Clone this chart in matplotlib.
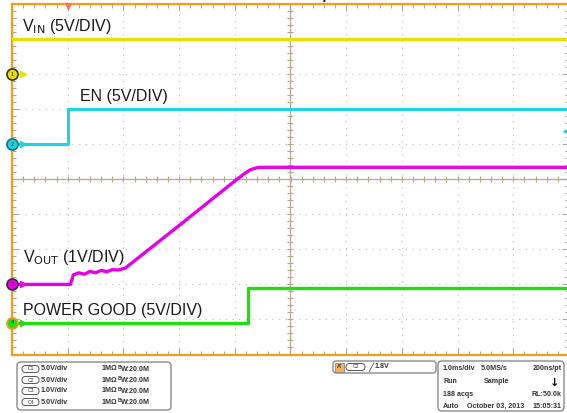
import numpy as np
import matplotlib.pyplot as plt
from matplotlib.patches import FancyBboxPatch

plt.rcParams['font.family'] = ['Liberation Sans', 'DejaVu Sans']

# scope traces, in screen divisions (x: 0..10 time, y: 0..10 vertical)
vin_x = [0.0, 10.0]
vin_y = [9.0, 9.0]

en_x = [0.08, 1.0, 1.0, 10.0]
en_y = [6.0, 6.0, 7.0, 7.0]

vout_x = [0.1, 1.05, 1.1, 1.2, 1.3, 1.4, 1.5, 1.6, 1.7, 1.8, 1.9, 2.03,
          3.0, 4.0, 4.18, 4.28, 4.38, 4.45, 10.0]
vout_y = [2.0, 2.0, 2.27, 2.33, 2.29, 2.37, 2.33, 2.40, 2.36, 2.42, 2.41, 2.46,
          3.68, 4.95, 5.17, 5.27, 5.32, 5.34, 5.34]

pg_x = [0.1, 4.24, 4.24, 10.0]
pg_y = [0.9, 0.9, 1.9, 1.9]

# channel ground markers
ch_names = ['1', '2', '3', '4']
ch_levels = [8.0, 6.0, 2.0, 0.9]
ch_colors = ['#e8e000', '#1ed4e4', '#e600e6', '#22dd11']
ch_edges = ['#333333', '#1a6f80', '#333333', '#f39c1f']

trig_pos = 1.0
trig_level = 6.36

labels = ['V$_{\\mathrm{IN}}$ (5V/DIV)', 'EN (5V/DIV)',
          'V$_{\\mathrm{OUT}}$ (1V/DIV)', 'POWER GOOD (5V/DIV)']
label_x = [0.18, 1.22, 0.19, 0.19]
label_y = [9.23, 7.23, 2.64, 1.14]

scale_rows = [('C1', '5.0V/div'), ('C2', '5.0V/div'), ('C3', '1.0V/div'), ('C4', '5.0V/div')]
info_rows = [('1.0ms/div', '5.0MS/s', '200ns/pt'),
             ('Run', 'Sample', ''),
             ('188 acqs', '', 'RL:50.0k'),
             ('Auto', 'October 03, 2013', '15:05:31')]

orange = '#f39c1f'
grid_c = '#c4bcae'
center_c = '#b4a68c'

fig = plt.figure(figsize=(5.67, 4.13), dpi=100)
ax = fig.add_axes([12 / 567, 58.5 / 413, 557 / 567, 350.5 / 413])
ax.set_xlim(0, 10)
ax.set_ylim(0, 10)

for s in ax.spines.values():
    s.set_color(orange)
    s.set_linewidth(1.6)

ax.set_xticks(np.arange(0, 11, 1))
ax.set_yticks(np.arange(0, 11, 1))
ax.set_xticks(np.arange(0, 10.01, 0.2), minor=True)
ax.set_yticks(np.arange(0, 10.01, 0.2), minor=True)
ax.tick_params(which='both', direction='in', top=True, right=True,
               labelbottom=False, labelleft=False, color='#a8a8a8', width=0.8)
ax.tick_params(which='major', length=5)
ax.tick_params(which='minor', length=3)
ax.grid(True, which='major', color=grid_c, linestyle=(0, (1, 5)), linewidth=0.8)

# center crosshair with small ticks
ax.axhline(5, color=center_c, lw=0.9, zorder=1)
ax.axvline(5, color=center_c, lw=0.9, zorder=1)
tk = np.arange(0.2, 10, 0.2)
ax.plot(tk, np.full_like(tk, 5), '|', color=center_c, ms=4, mew=0.8, zorder=1)
ax.plot(np.full_like(tk, 5), tk, '_', color=center_c, ms=4, mew=0.8, zorder=1)

ax.plot(vin_x, vin_y, color=ch_colors[0], lw=2.4, zorder=3)
ax.plot(en_x, en_y, color=ch_colors[1], lw=2.2, zorder=3)
ax.plot(vout_x, vout_y, color=ch_colors[2], lw=2.4, zorder=3)
ax.plot(pg_x, pg_y, color=ch_colors[3], lw=2.4, zorder=3)

for txt, x, y in zip(labels, label_x, label_y):
    ax.text(x, y, txt, fontsize=11.5, color='#1a1a1a', va='baseline', ha='left')

for name, lev, c, e in zip(ch_names, ch_levels, ch_colors, ch_edges):
    ax.plot([0.2], [lev], marker='>', color=c, ms=4.5, clip_on=False, zorder=5)
    ax.plot([0.0], [lev], marker='o', color=c, mec=e, mew=1.2, ms=8,
            clip_on=False, zorder=6)
    ax.text(0.0, lev, name, fontsize=4, ha='center', va='center',
            color='#222222', zorder=7, clip_on=False)

# trigger position and level markers
ax.plot([trig_pos], [9.93], marker='v', color='#f07a5a', ms=5, clip_on=False, zorder=5)
ax.annotate('', xy=(9.83, trig_level), xytext=(10.0, trig_level),
            arrowprops=dict(arrowstyle='-|>', color=ch_colors[1], lw=1,
                            mutation_scale=5), annotation_clip=False)

# partly hidden caption at the very top
fig.text(262 / 567, 1.0 + 3.5 / 413, 'Startup to V$_{\\mathrm{IN}}$', fontsize=16,
         ha='left', va='baseline', color='#111111')

# bottom status panels, drawn in figure pixels
pan = fig.add_axes([0, 0, 1, 1], zorder=-1)
pan.set_xlim(0, 567)
pan.set_ylim(413, 0)
pan.axis('off')

bfs = 5.1
pan.add_patch(FancyBboxPatch((17, 362), 154, 48, boxstyle='round,pad=0,rounding_size=4',
                             fc='white', ec='#8a8a8a', lw=1))
for i, (c, v) in enumerate(scale_rows):
    y = 369 + i * 11
    pan.add_patch(FancyBboxPatch((22, y - 3.5), 17, 7, boxstyle='round,pad=0,rounding_size=3.5',
                                 fc='white', ec='#555555', lw=0.7))
    pan.text(30.5, y, c, fontsize=3.6, ha='center', va='center', color='#333333')
    pan.text(41, y, v, fontsize=bfs, fontweight='bold', va='center', color='#333333')
    pan.text(102, y, '1M\u03a9', fontsize=bfs, fontweight='bold', va='center', color='#333333')
    pan.text(118, y - 1.5, 'B', fontsize=3.6, fontweight='bold', va='center', color='#333333')
    pan.text(121, y + 0.5, 'W:20.0M', fontsize=bfs, fontweight='bold', va='center',
             color='#333333')

# trigger box
pan.add_patch(FancyBboxPatch((333, 361), 103, 12, boxstyle='round,pad=0,rounding_size=3',
                             fc='white', ec='#8a8a8a', lw=1))
pan.add_patch(plt.Rectangle((335, 362.5), 9, 9, fc='#f5b05a', ec='#888888', lw=0.6))
pan.text(339.5, 367, "A'", fontsize=4, fontweight='bold', ha='center', va='center', color='#333333')
pan.add_patch(FancyBboxPatch((346, 363.5), 19, 7, boxstyle='round,pad=0,rounding_size=3.5',
                             fc='white', ec='#555555', lw=0.7))
pan.text(355.5, 367, 'C2', fontsize=3.6, ha='center', va='center', color='#333333')
pan.text(368, 367, '\u2571', fontsize=bfs + 1, va='center', color='#333333',
         family='DejaVu Sans')
pan.text(375, 367, '1.8V', fontsize=bfs, fontweight='bold', va='center', color='#333333')

# timebase box
pan.add_patch(FancyBboxPatch((438, 361), 126, 50, boxstyle='round,pad=0,rounding_size=4',
                             fc='white', ec='#8a8a8a', lw=1))
mid_x = [481, 484, 0, 467]
for i, (a, b, c) in enumerate(info_rows):
    y = 369 + i * 12.5
    pan.text(443, y, a, fontsize=bfs, fontweight='bold', va='center', color='#333333')
    pan.text(mid_x[i], y, b, fontsize=bfs, fontweight='bold', va='center', color='#333333')
    pan.text(562, y, c, fontsize=bfs, fontweight='bold', va='center', ha='right', color='#333333')
pan.text(559, 383, '\u2193', fontsize=8, fontweight='bold', ha='right', va='center',
         color='#111111', family='DejaVu Sans')

fig.savefig('out.png', dpi=100)
